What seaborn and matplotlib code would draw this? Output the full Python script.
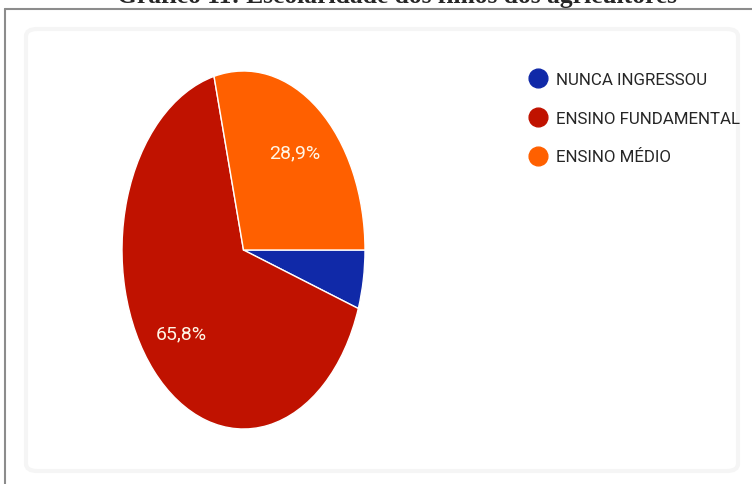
import matplotlib
matplotlib.use('Agg')
import matplotlib.pyplot as plt
import seaborn as sns
from matplotlib import font_manager
from matplotlib.lines import Line2D
from matplotlib.patches import FancyBboxPatch

# ---- data ----
categories = ['NUNCA INGRESSOU', 'ENSINO FUNDAMENTAL', 'ENSINO MÉDIO']
values = [5.3, 65.8, 28.9]
colors = ['#1029a8', '#c01200', '#ff6000']
title = 'Gráfico 11: Escolaridade dos filhos dos agricultores'

sns.set_theme(style='white')
names = {f.name for f in font_manager.fontManager.ttflist}
narrow = 'Liberation Sans Narrow' if 'Liberation Sans Narrow' in names else 'Roboto'
plt.rcParams['font.family'] = [narrow, 'DejaVu Sans']

W, H = 752, 485
fig = plt.figure(figsize=(W / 100, H / 100), dpi=100)
fig.patch.set_facecolor('white')


def fx(px):
    return px / W


def fy(py):
    return 1 - py / H


# outer document frame (top and left lines only visible)
fig.add_artist(Line2D([fx(5), 1.01], [fy(10), fy(10)], color='#8c8c8c', lw=1.5,
                      transform=fig.transFigure, zorder=-2))
fig.add_artist(Line2D([fx(5), fx(5)], [fy(10), -0.01], color='#8c8c8c', lw=1.5,
                      transform=fig.transFigure, zorder=-2))
# faint inner panel
fig.add_artist(FancyBboxPatch((fx(26), fy(472)), fx(738) - fx(26), fy(30) - fy(472),
                              boxstyle='round,pad=0,rounding_size=0.015',
                              transform=fig.transFigure, fc='white', ec='#f5f5f5',
                              lw=3, zorder=-1))

# pie (stretched like the reference)
ax = fig.add_axes([fx(122), fy(430), fx(365) - fx(122), fy(72) - fy(430)])
ax.set_zorder(2)


def fmt(p):
    return f'{p:.1f}%'.replace('.', ',') if p > 10 else ''


wedges, texts, autotexts = ax.pie(
    values, colors=colors, startangle=0, counterclock=False,
    autopct=fmt, pctdistance=0.69,
    wedgeprops=dict(edgecolor='white', linewidth=1),
    textprops=dict(color='#fff6e6', fontsize=14))
ax.set_aspect('auto')
ax.set_xlim(-1, 1)
ax.set_ylim(-1, 1)
ax.axis('off')

# legend
handles = [Line2D([], [], marker='o', linestyle='none', markersize=13.5,
                  markerfacecolor=c, markeredgecolor=c) for c in colors]
fig.legend(handles, categories, loc='upper left',
           bbox_to_anchor=(fx(531), fy(73)), frameon=False, fontsize=12.2,
           labelspacing=1.4, handlelength=0.8, handletextpad=0.65,
           borderaxespad=0, borderpad=0)

# title (cut off at the top in the reference)
fig.text(fx(397), fy(3.5), title, ha='center', va='baseline',
         family=['Liberation Serif', 'DejaVu Serif'], fontweight='bold', fontsize=18.4)

fig.savefig('out.png', dpi=100, facecolor='white')
